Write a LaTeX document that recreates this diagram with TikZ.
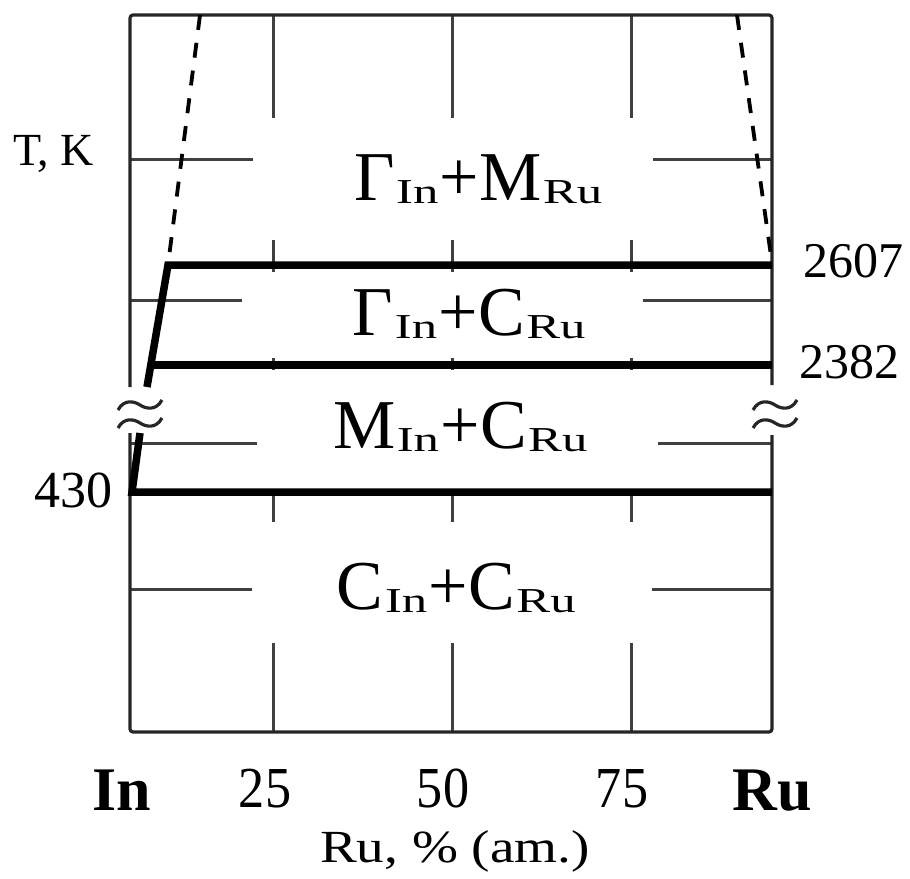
\documentclass[tikz,border=0pt]{standalone}
\usepackage{fontspec}
\setmainfont{Liberation Serif}
\usepackage{graphicx}
\newcommand\phsub[1]{\kern1.5pt\raisebox{-3pt}{\fontsize{35}{36}\selectfont\scalebox{1.45}[1]{#1}}\kern1.5pt}
\newcommand\phlab[4]{#1\phsub{#2}+#3\phsub{#4}}
\begin{document}
\begin{tikzpicture}[x=1pt,y=-1pt,
  frame/.style={line width=3.2pt, draw=black!85, line join=round, rounded corners=3pt},
  gridl/.style={line width=3pt, draw=black!75},
  phase/.style={line width=7.5pt, line join=miter, draw=black},
  dashb/.style={line width=3.8pt, dash pattern=on 15pt off 13pt, draw=black},
  brk/.style={line width=3.2pt, draw=black!85},
  biglab/.style={font=\fontsize{70}{72}\selectfont, anchor=base, inner sep=0pt},
  numlab/.style={font=\fontsize{50}{54}\selectfont, anchor=base west, inner sep=0pt},
  axlab/.style={font=\fontsize{58}{60}\selectfont, anchor=base, inner sep=0pt},
  ellab/.style={font=\fontsize{62}{64}\selectfont\bfseries, anchor=base, inner sep=0pt}]
\useasboundingbox (0,0) rectangle (910,878);

% grid lines
\foreach \gx in {273,452,631}{
  \draw[gridl] (\gx,15) -- (\gx,118);
  \draw[gridl] (\gx,240) -- (\gx,272);
  \draw[gridl] (\gx,358) -- (\gx,370);
  \draw[gridl] (\gx,492) -- (\gx,522);
  \draw[gridl] (\gx,643) -- (\gx,732);
}
\draw[gridl] (130,159) -- (253,159);  \draw[gridl] (653,159) -- (772,159);
\draw[gridl] (130,300) -- (242,300);  \draw[gridl] (643,300) -- (772,300);
\draw[gridl] (130,443) -- (257,443);  \draw[gridl] (658,443) -- (772,443);
\draw[gridl] (130,589) -- (252,589);  \draw[gridl] (652,589) -- (772,589);

% frame (broken)
\draw[frame] (130,387) -- (130,15) -- (772,15) -- (772,385);
\draw[frame] (130,433) -- (130,732) -- (772,732) -- (772,435);

% break marks
\foreach \bx in {118,753}{
  \foreach \by in {405,423}{
    \draw[brk] (\bx,\by+5) .. controls (\bx+6,\by-6) and (\bx+16,\by-4) .. (\bx+22,\by)
      .. controls (\bx+28,\by+4) and (\bx+38,\by+6) .. (\bx+44,\by-5);
  }
}

% phase boundaries
\draw[phase] (772,265) -- (168,265) -- (147,387);
\draw[phase] (151,365) -- (772,365);
\draw[phase] (140,433) -- (132,492) -- (772,492);

% dashed lines
\draw[dashb] (200,15) -- (168,265);
\draw[dashb] (737,15) -- (772,263);

% phase labels
\node[biglab] (p1) at (479,200) {\phlab{Γ}{In}{M}{Ru}};
\node[biglab] (p2) at (470,335) {\phlab{Γ}{In}{C}{Ru}};
\node[biglab] (p3) at (461,448) {\phlab{M}{In}{C}{Ru}};
\node[biglab] (p4) at (457,609) {\phlab{C}{In}{C}{Ru}};

% temperature labels
\node[numlab, font=\fontsize{46}{48}\selectfont] (tk) at (13,165) {T, K};
\node[numlab] (t1) at (803,277) {2607};
\node[numlab] (t2) at (799,378) {2382};
\node[numlab, font=\fontsize{52}{54}\selectfont, anchor=base east] (t3) at (113,507) {430};

% composition axis
\node[ellab] (in) at (122,810) {In};
\node[axlab] (x25) at (265,807) {\scalebox{0.9}[1]{25}};
\node[axlab] (x50) at (443,807) {\scalebox{0.9}[1]{50}};
\node[axlab] (x75) at (622,807) {\scalebox{0.9}[1]{75}};
\node[ellab] (ru) at (772,810) {Ru};
\node[anchor=base, inner sep=0pt, font=\fontsize{46}{48}\selectfont] (xl) at (455,862) {\scalebox{1.2}[1]{Ru, \% (am.)}};
\end{tikzpicture}
\end{document}
